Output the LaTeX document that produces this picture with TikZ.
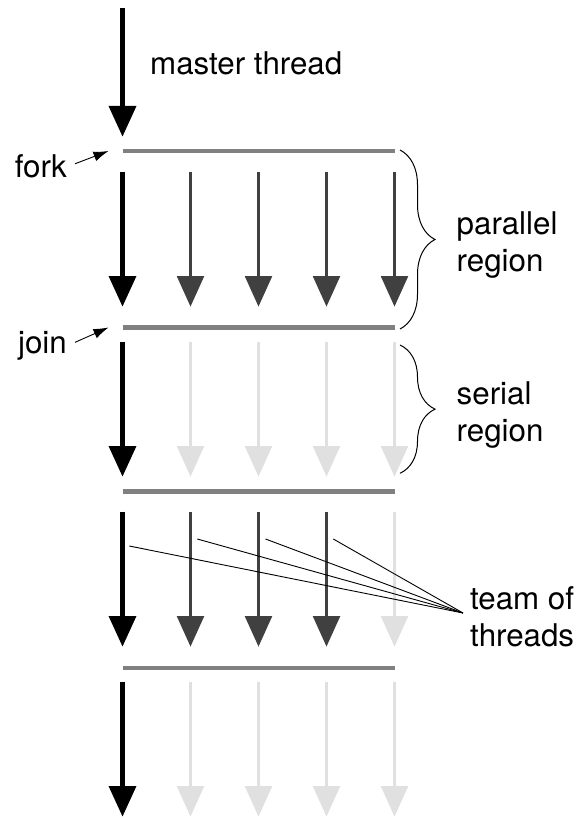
\documentclass[tikz,border=0pt]{standalone}
\usepackage{fontspec}
\setmainfont{TeX Gyre Heros}
\usetikzlibrary{arrows.meta, decorations.pathreplacing}
\definecolor{busy}{gray}{0.25}
\definecolor{idle}{gray}{0.88}
\definecolor{barrier}{gray}{0.5}

\begin{document}
\begin{tikzpicture}[x=1pt, y=-1pt, >=latex,
  thread/.style={line width=3.5pt, -{Triangle[width=26.7pt,length=30.7pt]}},
  master/.style={thread, line width=4.5pt, color=black},
  label/.style={inner sep=0pt, font=\fontsize{31.3}{37}\selectfont, align=left},
  pointer/.style={line width=0.9pt},
  region/.style={line width=1pt, decorate, decoration={brace, amplitude=35pt}}]
  \useasboundingbox (0,0) rectangle (578,818);
  \coordinate (m0) at (122.5,8.3);
  \coordinate (m1) at (122.5,136.7);
  \draw [master] (m0) -- (m1);
  \node [label, anchor=base west] (mt) at (150,75) {master thread};
  \foreach \b/\y in {1/151, 2/327.5, 3/491.5, 4/668} {
    \coordinate (b\b l) at (122.5,\y);
    \coordinate (b\b r) at (394.5,\y);
    \draw [barrier, line width=4.5pt] (b\b l) -- (b\b r);
  }
  \foreach \s/\y/\cA/\cB/\cC/\cD in {1/171.7/busy/busy/busy/busy, 2/341.7/idle/idle/idle/idle,
      3/511.7/busy/busy/busy/idle, 4/681.7/idle/idle/idle/idle} {
    \coordinate (t\s1) at (122.5,\y);
    \coordinate (h\s1) at (122.5,\y+135);
    \draw [master] (t\s1) -- (h\s1);
    \foreach \c/\col in {2/\cA, 3/\cB, 4/\cC, 5/\cD} {
      \coordinate (t\s\c) at (54.5+68*\c,\y);
      \coordinate (h\s\c) at (54.5+68*\c,\y+135);
      \draw [thread, color=\col] (t\s\c) -- (h\s\c);
    }
  }
  \node [label, anchor=base east] (fork) at (67,178) {fork};
  \node [label, anchor=base east] (join) at (67,353) {join};
  \draw [pointer, -{Latex[length=15pt,width=10pt]}] ([shift={(8pt,3pt)}]fork.east) -- ([xshift=-14pt]b1l);
  \draw [pointer, -{Latex[length=15pt,width=10pt]}] ([shift={(8pt,3pt)}]join.east) -- ([xshift=-14pt]b2l);
  \coordinate (p1) at (400,150);
  \coordinate (p2) at (400,329);
  \coordinate (s1) at (400,345);
  \coordinate (s2) at (400,473.3);
  \draw [region] (p1) -- (p2);
  \draw [region] (s1) -- (s2);
  \node [label, anchor=west] (par) at (456.5,245) {parallel\\region};
  \node [label, anchor=west] (ser) at (456.5,415) {serial\\region};
  \node [label, anchor=west] (team) at (470,616.5) {team of\\threads};
  \coordinate (hub) at (463,613);
  \coordinate (tm1) at (129.3,546);
  \coordinate (tm2) at (197.3,539);
  \coordinate (tm3) at (265.5,539);
  \coordinate (tm4) at (333.3,539);
  \foreach \i in {1,...,4}
    \draw [pointer] (tm\i) -- (hub);
\end{tikzpicture}
\end{document}
